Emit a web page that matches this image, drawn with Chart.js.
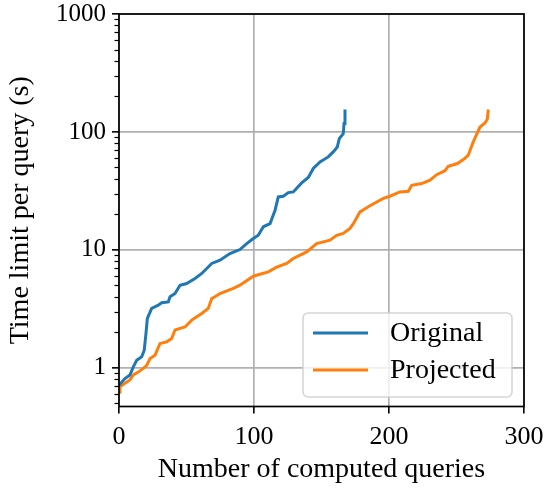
<!DOCTYPE html>
<html>
<head>
<meta charset="utf-8">
<script src="https://cdn.jsdelivr.net/npm/chart.js@4.4.1/dist/chart.umd.min.js"></script>
<style>
  body { margin: 0; background: #fff; }
  canvas { display: block; }
</style>
</head>
<body>
<canvas id="chart" width="545" height="491"></canvas>
<script>
// values
const origX = [0, 4.4, 8.1, 10.6, 13.1, 16.8, 18.7, 20, 21, 24.2, 29.1, 31.6, 36.5, 37.8, 41.5, 45.2, 50.1, 56.3, 61.3, 68.7, 74.8, 82.2, 89.6, 94.6, 99.5, 103.2, 106.9, 111.9, 115.6, 118, 121.7, 125.4, 129.1, 135.3, 140.2, 143.9, 148.9, 155, 158.7, 161.7, 163.2, 166.1, 166.7, 167.4];
const origY = [0.71, 0.81, 0.87, 1.02, 1.16, 1.24, 1.41, 1.97, 2.62, 3.19, 3.40, 3.56, 3.62, 4.0, 4.27, 5.02, 5.19, 5.72, 6.31, 7.67, 8.18, 9.31, 10.07, 11.3, 12.5, 13.3, 15.7, 16.7, 21.7, 28.1, 28.5, 30.6, 31.0, 37.0, 41.1, 49.0, 55.7, 61.4, 67.7, 74.6, 87.9, 96.9, 118, 155];

const projX = [0, 0.7, 4.4, 8.1, 10.6, 14.3, 18, 20.5, 23, 26.7, 30.4, 35.3, 39, 41.5, 45.2, 48.9, 53.9, 57.6, 61.3, 66.1, 68.7, 71.1, 74.8, 84.7, 89.6, 99.5, 104.4, 110.6, 116.8, 124.2, 129.1, 134.1, 139, 146.4, 156.3, 161.3, 166.1, 171.1, 173.6, 178.5, 185.9, 195.8, 200.7, 208.1, 214.3, 216.8, 224.2, 230.4, 235.3, 241.5, 243.9, 250.7, 255.6, 258.7, 262.4, 267.4, 271.1, 272.8, 273.6];
const projY = [0.62, 0.69, 0.74, 0.79, 0.87, 0.92, 0.99, 1.05, 1.20, 1.28, 1.61, 1.66, 1.77, 2.09, 2.16, 2.22, 2.54, 2.71, 2.89, 3.19, 3.87, 4.0, 4.27, 4.71, 5.02, 5.98, 6.22, 6.51, 7.13, 7.67, 8.46, 9.02, 9.62, 11.3, 12.1, 13.3, 13.8, 15.2, 16.7, 21.0, 23.7, 27.3, 28.5, 31.0, 31.4, 35.3, 36.5, 39.0, 43.4, 46.9, 51.2, 54.0, 58.9, 63.5, 82.3, 110, 119, 128, 155];

const seriesNames = ['Original', 'Projected'];
const xTicks = [0, 100, 200, 300];
const yMajorTicks = [1, 10, 100, 1000];

const SERIF = "'Liberation Serif', 'Times New Roman', serif";

// log axis tick positions: decades plus 2..9 minor ticks
const yTickValues = [];
[0.1, 1, 10, 100].forEach(d => {
    for (let m = 1; m <= 9; m++) {
        const v = +(d * m).toPrecision(3);
        if (v >= 0.47 && v <= 1000) yTickValues.push(v);
    }
});
yTickValues.push(1000);

const isMajor = v => yMajorTicks.includes(v);

const toPoints = (xs, ys) => xs.map((x, i) => ({x: x, y: ys[i]}));

// minor ticks on the y axis, shorter than the major ones
const minorTicks = {
    id: 'minorTicks',
    afterDraw(chart) {
        const {ctx, chartArea} = chart;
        const y = chart.scales.y;
        ctx.save();
        ctx.strokeStyle = '#000';
        ctx.lineWidth = 1.2;
        y.ticks.forEach(t => {
            if (isMajor(t.value)) return;
            const py = Math.round(y.getPixelForValue(t.value)) + 0.5;
            ctx.beginPath();
            ctx.moveTo(chartArea.left - 4.5, py);
            ctx.lineTo(chartArea.left, py);
            ctx.stroke();
        });
        ctx.restore();
    }
};

// black frame around the plot
const spines = {
    id: 'spines',
    afterDatasetsDraw(chart) {
        const {ctx, chartArea} = chart;
        ctx.save();
        ctx.strokeStyle = '#000';
        ctx.lineWidth = 1.7;
        ctx.strokeRect(chartArea.left, chartArea.top, chartArea.right - chartArea.left, chartArea.bottom - chartArea.top);
        ctx.restore();
    }
};

// matplotlib style legend in the lower right corner
const legendBox = {
    id: 'legendBox',
    afterDraw(chart) {
        const {ctx, chartArea} = chart;
        const w = 209, h = 84;
        const x = chartArea.right - 12 - w;
        const y = chartArea.bottom - 9.5 - h;
        ctx.save();
        ctx.beginPath();
        ctx.roundRect(x, y, w, h, 5);
        ctx.fillStyle = 'rgba(255,255,255,0.8)';
        ctx.fill();
        ctx.strokeStyle = 'rgba(204,204,204,0.8)';
        ctx.lineWidth = 1.6;
        ctx.stroke();
        chart.data.datasets.forEach((ds, i) => {
            const ly = y + 20 + i * 37;
            ctx.beginPath();
            ctx.moveTo(x + 10, ly);
            ctx.lineTo(x + 65, ly);
            ctx.strokeStyle = ds.borderColor;
            ctx.lineWidth = ds.borderWidth;
            ctx.stroke();
            ctx.fillStyle = '#000';
            ctx.font = '28px ' + SERIF;
            ctx.textBaseline = 'middle';
            ctx.fillText(ds.label, x + 87, ly + 1);
        });
        ctx.restore();
    }
};

const ctx = document.getElementById('chart');
const chart = new Chart(ctx, {
    type: 'line',
    data: {
        datasets: [{
            label: seriesNames[0],
            data: toPoints(origX, origY),
            borderColor: '#1f77b4',
            borderWidth: 3,
            pointRadius: 0,
            fill: false,
            tension: 0
        }, {
            label: seriesNames[1],
            data: toPoints(projX, projY),
            borderColor: '#ff7f0e',
            borderWidth: 3,
            pointRadius: 0,
            fill: false,
            tension: 0
        }]
    },
    options: {
        responsive: false,
        animation: false,
        layout: {
            padding: {left: 0, right: 21, top: 14, bottom: 0}
        },
        plugins: {
            legend: {display: false},
            tooltip: {enabled: false}
        },
        scales: {
            x: {
                type: 'linear',
                min: 0,
                max: 300,
                afterBuildTicks: scale => {
                    scale.ticks = xTicks.map(v => ({value: v}));
                },
                afterFit: scale => {
                    scale.height = 84.5;
                    scale.paddingLeft = 0;
                    scale.paddingRight = 0;
                },
                ticks: {
                    color: '#000',
                    padding: 8,
                    font: {family: SERIF, size: 26},
                    maxRotation: 0
                },
                grid: {
                    color: '#b0b0b0',
                    lineWidth: 1.7,
                    tickLength: 7,
                    tickColor: '#000',
                    tickWidth: 1.6
                },
                border: {display: false},
                title: {
                    display: true,
                    text: 'Number of computed queries',
                    color: '#000',
                    font: {family: SERIF, size: 28},
                    padding: {top: 0, bottom: 4.5}
                }
            },
            y: {
                type: 'logarithmic',
                min: 0.47,
                max: 1000,
                afterBuildTicks: scale => {
                    scale.ticks = yTickValues.map(v => ({value: v, major: isMajor(v)}));
                },
                afterFit: scale => {
                    scale.width = 119;
                    scale.paddingTop = 0;
                    scale.paddingBottom = 0;
                },
                ticks: {
                    color: '#000',
                    padding: 6,
                    autoSkip: false,
                    font: {family: SERIF, size: 25},
                    callback: value => isMajor(value) ? String(value) : ''
                },
                grid: {
                    color: c => isMajor(c.tick.value) ? '#b0b0b0' : 'rgba(0,0,0,0)',
                    lineWidth: 1.7,
                    tickLength: 7,
                    tickColor: c => isMajor(c.tick.value) ? '#000' : 'rgba(0,0,0,0)',
                    tickWidth: 1.6
                },
                border: {display: false},
                title: {
                    display: true,
                    text: 'Time limit per query (s)',
                    color: '#000',
                    font: {family: SERIF, size: 28},
                    padding: {top: 3.5, bottom: 0}
                }
            }
        }
    },
    plugins: [spines, minorTicks, legendBox]
});
</script>
</body>
</html>
